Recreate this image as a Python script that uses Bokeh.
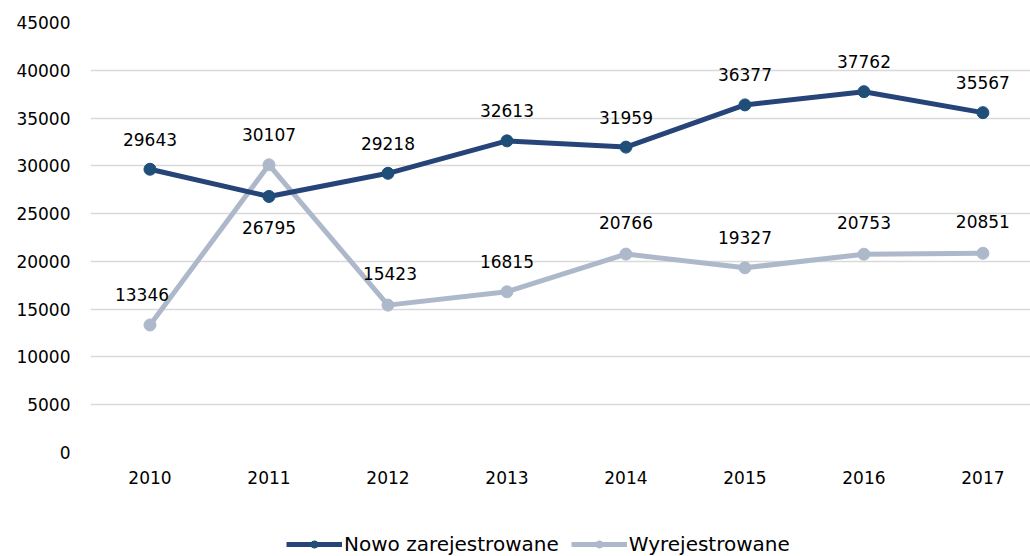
from bokeh.plotting import figure
from bokeh.layouts import column
from bokeh.models import Range1d, FixedTicker, ColumnDataSource, Legend, LegendItem, LabelSet
from bokeh.core.properties import value
from bokeh.embed import file_html
from bokeh.resources import INLINE

years = [2010, 2011, 2012, 2013, 2014, 2015, 2016, 2017]
nowo = [29643, 26795, 29218, 32613, 31959, 36377, 37762, 35567]
wyrej = [13346, 30107, 15423, 16815, 20766, 19327, 20753, 20851]
y_ticks = [0, 5000, 10000, 15000, 20000, 25000, 30000, 35000, 40000, 45000]
series_names = ["Nowo zarejestrowane", "Wyrejestrowane"]

# label offsets (style)
nowo_dy = [30, -31, 30, 30, 30, 30, 30, 30]
wyrej_dy = [30, 30, 32, 30, 32, 30, 32, 32]
wyrej_dx = [-8, 0, 2, 0, 0, 0, 0, 0]

FONT = "DejaVu Sans"
DARK = "#264478"
DARK_M = "#1F4E79"
LIGHT = "#ADB9CA"

p = figure(frame_width=940, frame_height=430, output_backend="svg", toolbar_location=None,
           x_range=Range1d(2009.5, 2017.4), y_range=Range1d(0, 45000),
           min_border_left=90, min_border_top=22, min_border_right=0,
           min_border_bottom=0)
p.outline_line_color = None
p.xgrid.visible = False
p.ygrid.grid_line_color = "#D9D9D9"
p.ygrid.grid_line_width = 1.5
p.ygrid.ticker = FixedTicker(ticks=y_ticks)

p.yaxis.ticker = FixedTicker(ticks=y_ticks)
p.xaxis.ticker = FixedTicker(ticks=years)
for ax in (p.xaxis[0], p.yaxis[0]):
    ax.axis_line_color = None
    ax.major_tick_line_color = None
    ax.minor_tick_line_color = None
    ax.major_tick_out = 0
    ax.major_label_text_font = FONT
    ax.major_label_text_font_size = "17px"
    ax.major_label_text_color = "#000000"
p.yaxis.major_label_standoff = 20
p.xaxis.major_label_standoff = 18

src_n = ColumnDataSource(dict(x=years, y=nowo, t=[str(v) for v in nowo], dy=nowo_dy))
src_w = ColumnDataSource(dict(x=years, y=wyrej, t=[str(v) for v in wyrej], dy=wyrej_dy, dx=wyrej_dx))

p.line("x", "y", source=src_w, line_color=LIGHT, line_width=5)
p.scatter("x", "y", source=src_w, size=12, fill_color=LIGHT, line_color=LIGHT)
p.line("x", "y", source=src_n, line_color=DARK, line_width=5)
p.scatter("x", "y", source=src_n, size=12, fill_color=DARK_M, line_color=DARK_M)

for src, dx in ((src_n, None), (src_w, "dx")):
    kw = dict(x="x", y="y", text="t", source=src, y_offset="dy",
              text_align="center", text_baseline="middle", text_font=value(FONT),
              text_font_size=value("17px"), text_color="#000000")
    if dx:
        kw["x_offset"] = dx
    p.add_layout(LabelSet(**kw))

# legend strip (same series, drawn outside its visible range)
lg = figure(width=1030, height=72, output_backend="svg", toolbar_location=None,
            x_range=Range1d(0, 1), y_range=Range1d(-2, -1),
            x_axis_type=None, y_axis_type=None, min_border=0)
lg.outline_line_color = None
lg.xgrid.visible = False
lg.ygrid.visible = False
ln = lg.line("x", "y", source=src_n, line_color=DARK, line_width=5)
sn = lg.scatter("x", "y", source=src_n, size=12, fill_color=DARK_M, line_color=DARK_M)
lw = lg.line("x", "y", source=src_w, line_color=LIGHT, line_width=5)
sw = lg.scatter("x", "y", source=src_w, size=12, fill_color=LIGHT, line_color=LIGHT)

legend = Legend(items=[LegendItem(label=series_names[0], renderers=[ln, sn]),
                       LegendItem(label=series_names[1], renderers=[lw, sw])],
                orientation="horizontal", location=(196, 2),
                label_text_font=FONT, label_text_font_size="20px",
                label_text_color="#000000",
                glyph_width=56, glyph_height=18, label_standoff=2, spacing=12,
                border_line_color=None, background_fill_alpha=0,
                margin=0, padding=0)
lg.add_layout(legend, "center")

layout = column(p, lg, spacing=0)
open("out.html", "w").write(file_html(layout, INLINE))
